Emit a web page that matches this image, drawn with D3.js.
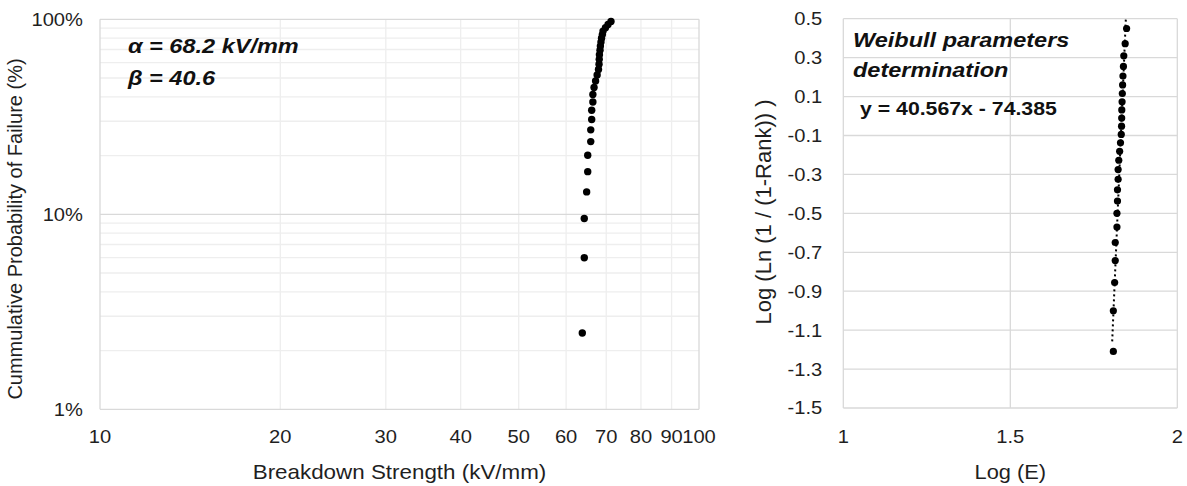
<!DOCTYPE html>
<html>
<head>
<meta charset="utf-8">
<script src="https://cdn.jsdelivr.net/npm/d3@7"></script>
<style>
  html, body { margin: 0; padding: 0; background: #fff; }
  svg { display: block; font-family: "Liberation Sans", Arial, sans-serif; }
</style>
</head>
<body>
<svg id="chart" width="1187" height="486"></svg>
<script>
// ---------- data ----------
// Breakdown strength (kV/mm), sorted, 28 specimens
const strength = [63.85, 64.34, 64.34, 64.93, 65.2, 65.2, 65.96, 65.96, 66.2, 66.2,
                  66.5, 66.5, 66.8, 67.2, 67.6, 67.95, 68.1, 68.15, 68.2, 68.35,
                  68.45, 68.6, 68.75, 68.97, 69.15, 69.8, 70.5, 71.3];
// Cumulative probability of failure (%)
const probability = [2.46, 5.99, 9.51, 13.03, 16.55, 20.07, 23.59, 27.11, 30.63, 34.15,
                     37.68, 41.20, 44.72, 48.24, 51.76, 55.28, 58.80, 62.32, 65.85, 69.37,
                     72.89, 76.41, 79.93, 83.45, 86.97, 90.49, 94.01, 97.54];
// Right chart: Log(E) and Log(Ln(1/(1-Rank)))
const logE = [1.8051, 1.8085, 1.8085, 1.8124, 1.8142, 1.8142, 1.8193, 1.8193, 1.8209, 1.8209,
              1.8228, 1.8228, 1.8248, 1.8274, 1.8299, 1.8322, 1.8331, 1.8335, 1.8338, 1.8347,
              1.8354, 1.8363, 1.8373, 1.8387, 1.8398, 1.8439, 1.8482, 1.8531];
const logLnRank = [-1.6030, -1.2095, -1.0004, -0.8552, -0.7426, -0.6497, -0.5701, -0.5000, -0.4368, -0.3789,
                   -0.3253, -0.2749, -0.2272, -0.1814, -0.1372, -0.0943, -0.0522, -0.0105, 0.0311, 0.0730,
                   0.1157, 0.1596, 0.2057, 0.2550, 0.3092, 0.3716, 0.4496, 0.5685];
// Trendline y = a x + b
const trendSlope = 40.567;
const trendIntercept = -74.385;

// Tick labels
const leftXTicks = [10, 20, 30, 40, 50, 60, 70, 80, 90, 100];
const leftYTicks = [1, 10, 100];
const leftYTickLabels = ["1%", "10%", "100%"];
const leftYMinor = [2, 3, 4, 5, 6, 7, 8, 9, 20, 30, 40, 50, 60, 70, 80, 90];
const rightYTicks = [0.5, 0.3, 0.1, -0.1, -0.3, -0.5, -0.7, -0.9, -1.1, -1.3, -1.5];
const rightYTickLabels = ["0.5", "0.3", "0.1", "-0.1", "-0.3", "-0.5", "-0.7", "-0.9", "-1.1", "-1.3", "-1.5"];
const rightXTicks = [1, 1.5, 2];
const rightXTickLabels = ["1", "1.5", "2"];

// Texts
const leftXTitle = "Breakdown Strength (kV/mm)";
const leftYTitle = "Cummulative Probability of Failure (%)";
const rightXTitle = "Log (E)";
const rightYTitle = "Log (Ln (1 / (1-Rank)) )";
const alphaText = "\u03B1 = 68.2 kV/mm";
const betaText = "\u03B2 = 40.6";
const weibullText1 = "Weibull parameters";
const weibullText2 = "determination";
const eqText = "y = 40.567x - 74.385";

// ---------- drawing ----------
const svg = d3.select("#chart");
const txtColor = "#1f1f1f";
const major = "#d9d9d9";
const minor = "#eeeeee";
const SX = 1.12;          // horizontal stretch of the reference's text
const tickFs = 18;
const titleFs = 19.5;

function htext(parent, x, y, str, opts = {}) {
  const g = parent.append("g").attr("transform", `translate(${x},${y}) scale(${SX},1)`);
  const t = g.append("text").attr("x", 0).attr("y", 0)
    .attr("font-size", opts.size || tickFs)
    .attr("fill", opts.fill || txtColor)
    .attr("text-anchor", opts.anchor || "start")
    .text(str);
  if (opts.dy) t.attr("dy", opts.dy);
  if (opts.bold) t.attr("font-weight", "bold");
  if (opts.italic) t.attr("font-style", "italic");
  return t;
}

// LEFT CHART
const L = {x0: 100, x1: 699, y0: 19.3, y1: 409.3};
const xL = d3.scaleLog().domain([10, 100]).range([L.x0, L.x1]);
const yL = d3.scaleLog().domain([1, 100]).range([L.y1, L.y0]);
const gL = svg.append("g");

gL.selectAll("line.vminor").data(leftXTicks.filter(d => d !== 10 && d !== 100)).enter()
  .append("line").attr("x1", d => xL(d)).attr("x2", d => xL(d))
  .attr("y1", L.y0).attr("y2", L.y1).attr("stroke", minor).attr("stroke-width", 1.3);
gL.selectAll("line.hminor").data(leftYMinor).enter()
  .append("line").attr("x1", L.x0).attr("x2", L.x1)
  .attr("y1", d => yL(d)).attr("y2", d => yL(d)).attr("stroke", minor).attr("stroke-width", 1.3);
gL.selectAll("line.hmajor").data(leftYTicks).enter()
  .append("line").attr("x1", L.x0).attr("x2", L.x1)
  .attr("y1", d => yL(d)).attr("y2", d => yL(d)).attr("stroke", major).attr("stroke-width", 1.3);
gL.selectAll("line.vmajor").data([10, 100]).enter()
  .append("line").attr("x1", d => xL(d)).attr("x2", d => xL(d))
  .attr("y1", L.y0).attr("y2", L.y1).attr("stroke", major).attr("stroke-width", 1.3);

leftYTicks.forEach((d, i) => htext(gL, L.x0 - 17, yL(d), leftYTickLabels[i], {anchor: "end", dy: "0.36em"}));
leftXTicks.forEach(d => htext(gL, xL(d), 443, d3.format("d")(d), {anchor: "middle"}));

gL.selectAll("circle").data(strength).enter().append("circle")
  .attr("cx", d => xL(d)).attr("cy", (d, i) => yL(probability[i]))
  .attr("r", 3.7).attr("fill", "#000");

htext(gL, (L.x0 + L.x1) / 2, 479, leftXTitle, {anchor: "middle", size: 20});
gL.append("text").attr("transform", `translate(22,229) rotate(-90)`).attr("text-anchor", "middle")
  .attr("font-size", 20).attr("fill", txtColor).text(leftYTitle);
htext(gL, 128, 53, alphaText, {size: 21, bold: true, italic: true, fill: "#111"});
htext(gL, 128, 85, betaText, {size: 21, bold: true, italic: true, fill: "#111"});

// RIGHT CHART
const R = {x0: 843.3, x1: 1177.3, y0: 18.7, y1: 408};
const xR = d3.scaleLinear().domain([1, 2]).range([R.x0, R.x1]);
const yR = d3.scaleLinear().domain([-1.5, 0.5]).range([R.y1, R.y0]);
const gR = svg.append("g");

svg.append("defs").append("clipPath").attr("id", "clipR").append("rect")
  .attr("x", R.x0).attr("y", R.y0 - 1).attr("width", R.x1 - R.x0).attr("height", R.y1 - R.y0 + 1);

gR.selectAll("line.h").data(rightYTicks).enter().append("line")
  .attr("x1", R.x0).attr("x2", R.x1).attr("y1", d => yR(d)).attr("y2", d => yR(d))
  .attr("stroke", major).attr("stroke-width", 1.3);
gR.selectAll("line.v").data(rightXTicks).enter().append("line")
  .attr("x1", d => xR(d)).attr("x2", d => xR(d)).attr("y1", R.y0).attr("y2", R.y1)
  .attr("stroke", major).attr("stroke-width", 1.3);

rightYTicks.forEach((d, i) => htext(gR, R.x0 - 21, yR(d), rightYTickLabels[i], {anchor: "end", dy: "0.36em"}));
rightXTicks.forEach((d, i) => htext(gR, xR(d), 443, rightXTickLabels[i], {anchor: "middle"}));

const plotR = gR.append("g").attr("clip-path", "url(#clipR)");
const xExt = d3.extent(logE);
plotR.append("line")
  .attr("x1", xR(xExt[0])).attr("y1", yR(trendSlope * xExt[0] + trendIntercept))
  .attr("x2", xR(xExt[1])).attr("y2", yR(trendSlope * xExt[1] + trendIntercept))
  .attr("stroke", "#000").attr("stroke-width", 2).attr("stroke-dasharray", "2,3");
plotR.selectAll("circle").data(logE).enter().append("circle")
  .attr("cx", d => xR(d)).attr("cy", (d, i) => yR(logLnRank[i]))
  .attr("r", 3.6).attr("fill", "#000");

htext(gR, (R.x0 + R.x1) / 2, 479, rightXTitle, {anchor: "middle", size: titleFs});
gR.append("text").attr("transform", `translate(771,212) rotate(-90)`).attr("text-anchor", "middle")
  .attr("font-size", 22).attr("fill", txtColor).text(rightYTitle);
htext(gR, 853, 47, weibullText1, {size: 21, bold: true, italic: true, fill: "#111"});
htext(gR, 853, 77, weibullText2, {size: 21, bold: true, italic: true, fill: "#111"});
htext(gR, 860, 115, eqText, {size: 19, bold: true, fill: "#111"});
</script>
</body>
</html>
